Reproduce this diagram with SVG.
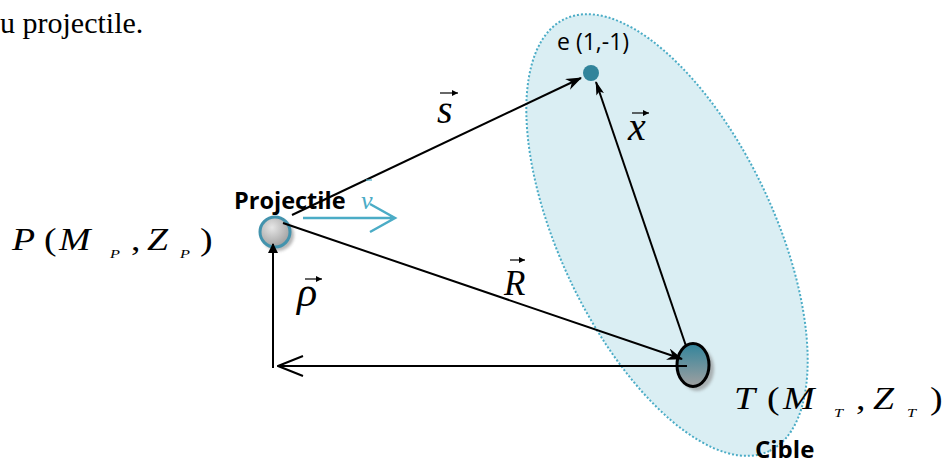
<svg xmlns="http://www.w3.org/2000/svg" width="943" height="466" viewBox="0 0 943 466">
<style>
.tm{font-family:"Liberation Serif","Times New Roman",serif;font-style:italic;fill:#000}
.tmu{font-family:"Liberation Serif","Times New Roman",serif;fill:#000}
.cal{font-family:"Open Sans","Liberation Sans",sans-serif;fill:#000}
.ln{stroke:#000;stroke-width:2;fill:none}
.va{stroke:#000;stroke-width:1.2;fill:none}
</style>
<defs>
<marker id="stealth" viewBox="0 0 16 12" refX="15" refY="6" markerWidth="16" markerHeight="12" markerUnits="userSpaceOnUse" orient="auto">
<path d="M0,0 L16,6 L0,12 L5,6 z" fill="#000"/>
</marker>
<marker id="thin" viewBox="0 0 14 8" refX="13" refY="4" markerWidth="14" markerHeight="8" markerUnits="userSpaceOnUse" orient="auto">
<path d="M0,0 L14,4 L0,8 L3,4 z" fill="#000"/>
</marker>
<marker id="tri" viewBox="0 0 10 10" refX="9" refY="5" markerWidth="10" markerHeight="10" markerUnits="userSpaceOnUse" orient="auto">
<path d="M0,0 L10,5 L0,10 z" fill="#000"/>
</marker>
<marker id="open" viewBox="0 0 28 22" refX="27" refY="11" markerWidth="28" markerHeight="22" markerUnits="userSpaceOnUse" orient="auto">
<path d="M2,1 L27,11 L2,21" stroke="#000" stroke-width="2" fill="none"/>
</marker>
<marker id="vsmall" viewBox="0 0 6 6" refX="6" refY="3" markerWidth="6" markerHeight="6" markerUnits="userSpaceOnUse" orient="auto">
<path d="M0,0 L6,3 L0,6 z" fill="#000"/>
</marker>
<radialGradient id="gP" cx="0.4" cy="0.35" r="0.7">
<stop offset="0" stop-color="#e6e6e6"/>
<stop offset="1" stop-color="#9c9c9c"/>
</radialGradient>
<linearGradient id="gT" x1="0" y1="0" x2="0" y2="1">
<stop offset="0" stop-color="#31849b"/>
<stop offset="1" stop-color="#a0a0a0"/>
</linearGradient>
<filter id="sh" x="-50%" y="-50%" width="200%" height="200%">
<feGaussianBlur stdDeviation="1.5"/>
</filter>
</defs>

<rect width="943" height="466" fill="#fff"/>

<text class="tmu" x="0" y="33" font-size="30">u projectile.</text>

<g id="cible-zone">
<ellipse cx="667" cy="235" rx="239" ry="107" transform="rotate(64.7 667 235)" fill="#daeef3" stroke="#4bacc6" stroke-width="2" stroke-dasharray="2 2"/>
</g>

<g id="node-projectile">
<circle cx="278" cy="235" r="16" fill="#888" opacity="0.6" filter="url(#sh)"/>
<circle cx="275" cy="232" r="15" fill="url(#gP)" stroke="#4393ad" stroke-width="3"/>
<text class="cal" x="234" y="209" font-size="23.5" font-weight="bold">Projectile</text>
</g>

<g id="node-e">
<circle cx="591" cy="73" r="8" fill="#31849b"/>
<text class="cal" x="557" y="50" font-size="23">e (1,-1)</text>
</g>

<g id="node-cible">
<ellipse cx="697" cy="369" rx="17" ry="22" fill="#888" opacity="0.6" filter="url(#sh)"/>
<ellipse cx="693" cy="365" rx="16" ry="21.5" fill="url(#gT)" stroke="#000" stroke-width="3"/>
<text class="cal" x="755" y="458" font-size="24" font-weight="bold">Cible</text>
</g>

<g id="label-P">
<text class="tm" font-size="31" transform="translate(12,250) scale(1.22,1)">P</text>
<text class="tmu" font-size="31" transform="translate(44,250) scale(1.22,1)">(</text>
<text class="tm" font-size="31" transform="translate(59,250) scale(1.22,1)">M</text>
<text class="tm" font-size="13" transform="translate(110,258) scale(1.25,1)">P</text>
<text class="tmu" font-size="31" transform="translate(131,250) scale(1.22,1)">,</text>
<text class="tm" font-size="31" transform="translate(147,250) scale(1.22,1)">Z</text>
<text class="tm" font-size="13" transform="translate(180,258) scale(1.25,1)">P</text>
<text class="tmu" font-size="31" transform="translate(200,250) scale(1.22,1)">)</text>
</g>

<g id="label-T">
<text class="tm" font-size="31" transform="translate(734,409) scale(1.22,1)">T</text>
<text class="tmu" font-size="31" transform="translate(767,409) scale(1.22,1)">(</text>
<text class="tm" font-size="31" transform="translate(783,409) scale(1.22,1)">M</text>
<text class="tm" font-size="13" transform="translate(834,417) scale(1.25,1)">T</text>
<text class="tmu" font-size="31" transform="translate(856,409) scale(1.22,1)">,</text>
<text class="tm" font-size="31" transform="translate(873,409) scale(1.22,1)">Z</text>
<text class="tm" font-size="13" transform="translate(907,417) scale(1.25,1)">T</text>
<text class="tmu" font-size="31" transform="translate(930,409) scale(1.22,1)">)</text>
</g>

<g id="vector-labels">
<text class="tm" x="437" y="123" font-size="40">s</text>
<path class="va" d="M440,93 H458" marker-end="url(#vsmall)"/>
<text class="tm" x="628" y="140" font-size="40">x</text>
<path class="va" d="M632,113 H649" marker-end="url(#vsmall)"/>
<text class="tm" x="504" y="295" font-size="35">R</text>
<path class="va" d="M510,260 H525" marker-end="url(#vsmall)"/>
<text class="tm" x="297" y="306" font-size="42">ρ</text>
<path class="va" d="M305,279 H322" marker-end="url(#vsmall)"/>
</g>

<g id="connectors">
<path class="ln" d="M292,215 L581,78" marker-end="url(#stealth)"/>
<path class="ln" d="M283,223 L682,359" marker-end="url(#stealth)"/>
<path class="ln" d="M686,346 L596,82" marker-end="url(#thin)"/>
<path class="ln" d="M273,368 L273,244" marker-end="url(#tri)"/>
<path class="ln" d="M687,366 L278,366" marker-end="url(#open)"/>
<g id="velocity">
<path d="M303,218 H394 M370,204 L395,218 L370,232" stroke="#4bacc6" stroke-width="2.5" fill="none"/>
<text x="361" y="209" font-size="26" font-style="italic" fill="#4bacc6" font-family="'Liberation Serif',serif">ν</text>
<path d="M366,180 H372" stroke="#4bacc6" stroke-width="1.2"/>
</g>
</g>
</svg>
